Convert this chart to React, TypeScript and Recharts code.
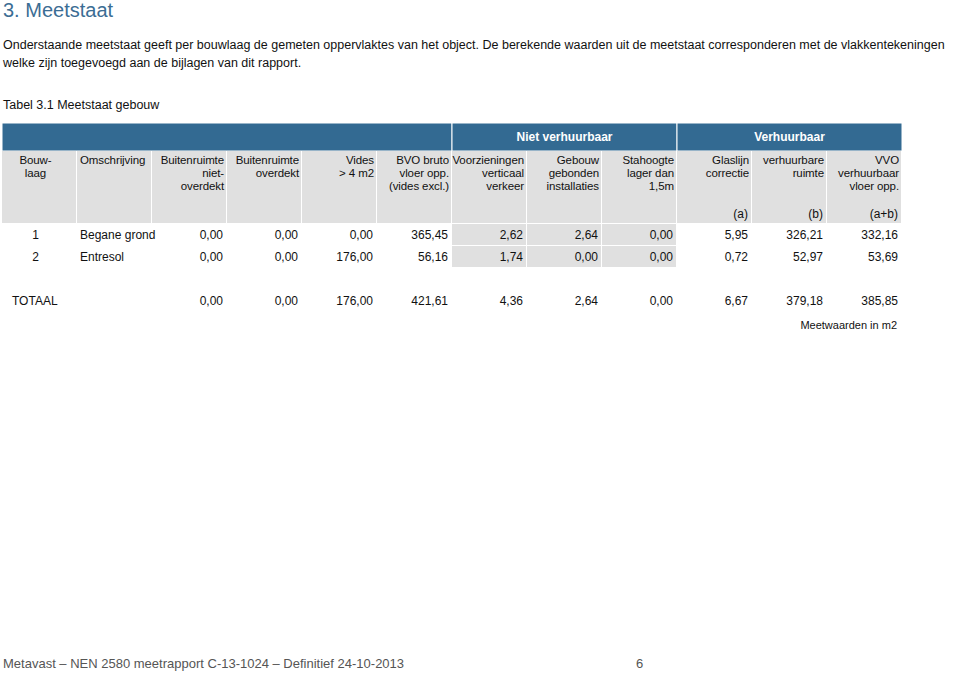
import { Bar, BarChart, LabelList, Scatter, ScatterChart, XAxis, YAxis } from "recharts";

// column headers of the meetstaat
const columnKeys = ["bouwlaag", "omschrijving", "buitenNiet", "buitenOverdekt", "vides", "bvo", "vertVerkeer", "installaties", "stahoogte", "glaslijn", "verhuurbaar", "vvo"];
const columnHeaders = [
  ["Bouw-", "laag"],
  ["Omschrijving"],
  ["Buitenruimte", "niet-", "overdekt"],
  ["Buitenruimte", "overdekt"],
  ["Vides", "> 4 m2"],
  ["BVO bruto", "vloer opp.", "(vides excl.)"],
  ["Voorzieningen", "verticaal", "verkeer"],
  ["Gebouw", "gebonden", "installaties"],
  ["Stahoogte", "lager dan", "1,5m"],
  ["Glaslijn", "correctie"],
  ["verhuurbare", "ruimte"],
  ["VVO", "verhuurbaar", "vloer opp."]
];
const columnUnits = ["", "", "", "", "", "", "", "", "", "(a)", "(b)", "(a+b)"];

const groupNames = ["", "Niet verhuurbaar", "Verhuurbaar"];
const groupSpans = [6, 3, 3];

const rowKeys = ["r1", "r2", "gap", "tot"];
const rowNumbers = ["1", "2", "", "TOTAAL"];
const rowNames = ["Begane grond", "Entresol", "", ""];
const beganeGrond = [0.0, 0.0, 0.0, 365.45, 2.62, 2.64, 0.0, 5.95, 326.21, 332.16];
const entresol = [0.0, 0.0, 176.0, 56.16, 1.74, 0.0, 0.0, 0.72, 52.97, 53.69];
const totaal = [0.0, 0.0, 176.0, 421.61, 4.36, 2.64, 0.0, 6.67, 379.18, 385.85];

const FONT = "'Liberation Sans', Arial, sans-serif";
const BLUE = "#336a92";
const GREY = "#e0e0e0";
const TABLE_W = 900;
const BAND_W = TABLE_W / columnKeys.length;
const HEAD_H = 72;
const ROW_H = 22;

const fmt = (v: number) => v.toFixed(2).replace(".", ",");

const groupRow: Record<string, string | number> = { name: "groups" };
groupSpans.forEach((s, i) => (groupRow[`g${i}`] = s));

const headerData = columnKeys.map((col, i) => ({ col, y: 0.5, lines: columnHeaders[i], unit: columnUnits[i], idx: i }));

const rowValues = [beganeGrond, entresol, null, totaal];
const bodyData = rowKeys.flatMap((row, r) =>
  columnKeys.map((col, c) => {
    let text = "";
    if (c === 0) text = rowNumbers[r];
    else if (c === 1) text = rowNames[r];
    else if (rowValues[r]) text = fmt((rowValues[r] as number[])[c - 2]);
    return { col, row, text, r, c };
  })
);

const anchorFor = (c: number) => (c === 0 ? "middle" : c === 1 ? "start" : "end");
const xFor = (c: number, left: number, pad: number) =>
  c === 0 ? left + BAND_W / 2 - 4 : c === 1 ? left + 3 : left + BAND_W - pad;

function HeaderCell(props: any) {
  const { cx, cy, payload } = props;
  const left = cx - BAND_W / 2;
  const top = cy - HEAD_H / 2;
  const c = payload.idx;
  return (
    <g>
      <rect x={left} y={top} width={BAND_W - 1} height={HEAD_H} fill={GREY} />
      {payload.lines.map((line: string, k: number) => (
        <text
          key={k}
          x={xFor(c, left, 3)}
          y={top + 13 + k * 13}
          textAnchor={anchorFor(c)}
          fontSize={11.5}
          letterSpacing={-0.1}
          fill="#111"
        >
          {line}
        </text>
      ))}
      {payload.unit ? (
        <text x={xFor(c, left, 4)} y={top + HEAD_H - 5} textAnchor="end" fontSize={12} fill="#111">
          {payload.unit}
        </text>
      ) : null}
    </g>
  );
}

function BodyCell(props: any) {
  const { cx, cy, payload } = props;
  const left = cx - BAND_W / 2;
  const top = cy - ROW_H / 2;
  const { r, c, text } = payload;
  const shaded = r < 2 && c >= 6 && c <= 8;
  const isTotal = c === 0 && text === "TOTAAL";
  return (
    <g>
      {shaded ? <rect x={left} y={top} width={BAND_W - 1} height={ROW_H - 1} fill={GREY} /> : null}
      {text ? (
        <text
          x={isTotal ? left + 10 : xFor(c, left, 4)}
          y={cy + 4}
          textAnchor={isTotal ? "start" : anchorFor(c)}
          fontSize={12}
          fill="#111"
        >
          {text}
        </text>
      ) : null}
    </g>
  );
}

export default function App() {
  return (
    <div style={{ position: "absolute", left: 0, top: 0, width: 960, height: 673, background: "#fff", fontFamily: FONT, color: "#111", overflow: "hidden" }}>
      <div style={{ position: "absolute", left: 3, top: 0, fontSize: 20, lineHeight: "20px", color: "#3b6d94", whiteSpace: "nowrap" }}>3. Meetstaat</div>
      <div style={{ position: "absolute", left: 3, top: 38, fontSize: 12.5, whiteSpace: "nowrap" }}>
        Onderstaande meetstaat geeft per bouwlaag de gemeten oppervlaktes van het object. De berekende waarden uit de meetstaat corresponderen met de vlakkentekeningen
      </div>
      <div style={{ position: "absolute", left: 3, top: 56, fontSize: 12.5, whiteSpace: "nowrap" }}>welke zijn toegevoegd aan de bijlagen van dit rapport.</div>
      <div style={{ position: "absolute", left: 3, top: 98, fontSize: 12.5, whiteSpace: "nowrap" }}>Tabel 3.1 Meetstaat gebouw</div>

      <div style={{ position: "absolute", left: 2, top: 123 }}>
        <BarChart width={TABLE_W} height={28} layout="vertical" data={[groupRow]} margin={{ top: 0, right: 0, bottom: 0, left: 0 }} barCategoryGap={0}>
          <XAxis type="number" domain={[0, columnKeys.length]} hide />
          <YAxis type="category" dataKey="name" hide />
          {groupNames.map((n, i) => (
            <Bar key={i} dataKey={`g${i}`} stackId="grp" fill={BLUE} stroke="#fff" strokeWidth={1} isAnimationActive={false}>
              <LabelList dataKey={`g${i}`} position="center" formatter={() => n} fill="#fff" fontWeight="bold" fontSize={12} fontFamily={FONT} />
            </Bar>
          ))}
        </BarChart>
      </div>

      <div style={{ position: "absolute", left: 2, top: 151 }}>
        <ScatterChart width={TABLE_W} height={HEAD_H} margin={{ top: 0, right: 0, bottom: 0, left: 0 }} style={{ fontFamily: FONT }}>
          <XAxis type="category" dataKey="col" allowDuplicatedCategory={false} hide />
          <YAxis type="number" dataKey="y" domain={[0, 1]} hide />
          <Scatter data={headerData} shape={HeaderCell} isAnimationActive={false} />
        </ScatterChart>
      </div>

      <div style={{ position: "absolute", left: 2, top: 224 }}>
        <ScatterChart width={TABLE_W} height={ROW_H * rowKeys.length} margin={{ top: 0, right: 0, bottom: 0, left: 0 }} style={{ fontFamily: FONT }}>
          <XAxis type="category" dataKey="col" allowDuplicatedCategory={false} hide />
          <YAxis type="category" dataKey="row" allowDuplicatedCategory={false} hide reversed />
          <Scatter data={bodyData} shape={BodyCell} isAnimationActive={false} />
        </ScatterChart>
      </div>

      <div style={{ position: "absolute", right: 63, top: 319, fontSize: 11, whiteSpace: "nowrap" }}>Meetwaarden in m2</div>

      <div style={{ position: "absolute", left: 3, top: 656, fontSize: 13, color: "#555", whiteSpace: "nowrap" }}>
        Metavast – NEN 2580 meetrapport C-13-1024 – Definitief 24-10-2013
      </div>
      <div style={{ position: "absolute", left: 636, top: 656, fontSize: 13, color: "#555" }}>6</div>
    </div>
  );
}
